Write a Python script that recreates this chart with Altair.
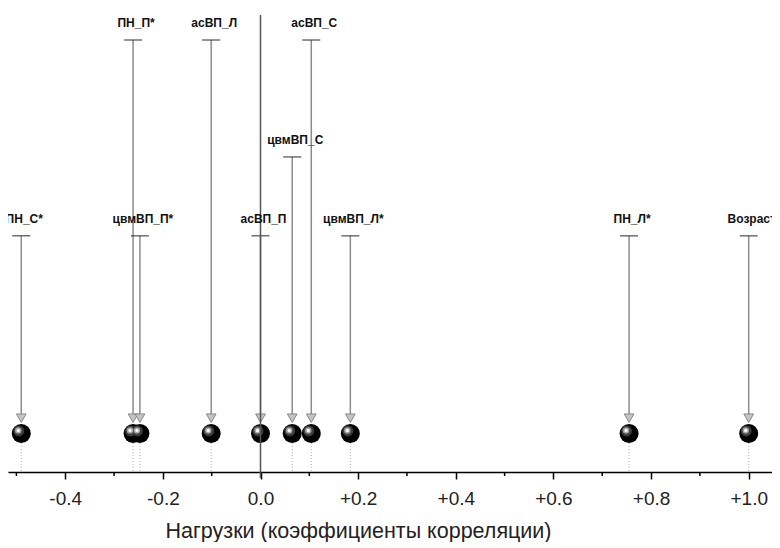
import altair as alt
import pandas as pd

# ---------------- data ----------------
names = ["ПН_С*", "ПН_П*", "цвмВП_П*", "асВП_Л", "асВП_П",
         "цвмВП_С", "асВП_С", "цвмВП_Л*", "ПН_Л*", "Возраст"]
loadings = [-0.490, -0.261, -0.247, -0.101, 0.0,
            0.065, 0.104, 0.184, 0.755, 1.0]
label_tier = [1, 3, 1, 3, 1, 2, 3, 1, 1, 1]          # 1 = low, 2 = middle, 3 = top row of labels
major_ticks = [-0.4, -0.2, 0.0, 0.2, 0.4, 0.6, 0.8, 1.0]
minor_ticks = [-0.5, -0.3, -0.1, 0.1, 0.3, 0.5, 0.7, 0.9]
axis_title = "Нагрузки (коэффициенты корреляции)"

# ---------------- layout constants ----------------
W, H = 764, 464
X_DOMAIN = [-0.5172, 1.0477]
TIER_Y = {1: 0.509, 2: 0.679, 3: 0.931}
BALL_Y = 0.083
ARROW_Y = 0.116
STEM_END = 0.123
DOT_TOP = 0.0625
ZERO_TOP = 0.985
FONT = "Liberation Sans"

df = pd.DataFrame({"name": names, "loading": loadings, "tier": label_tier})
df["stem_top"] = df["tier"].map(TIER_Y)
df["stem_end"] = STEM_END
df["arrow"] = ARROW_Y
df["ball"] = BALL_Y
df["dot_top"] = DOT_TOP
df["base"] = 0.0

xscale = alt.Scale(domain=X_DOMAIN, nice=False, zero=False)
yscale = alt.Scale(domain=[0, 1], nice=False, zero=False)

x_axis = alt.Axis(
    values=major_ticks,
    labelExpr="datum.value < -0.001 ? '-' + format(-datum.value, '.1f') : "
              "(datum.value > 0.001 ? '+' + format(datum.value, '.1f') : '0.0')",
    grid=False,
    tickSize=7, tickWidth=1.5, tickColor="black",
    domainColor="black", domainWidth=1.5,
    labelFontSize=19, labelFont=FONT, labelColor="#222",
    labelPadding=10, labelFlush=False, labelOverlap=False,
    title=axis_title, titleFontSize=21.5, titleFont=FONT,
    titleFontWeight="normal", titleColor="#222", titlePadding=12,
    titleX=350, titleAlign="center",
)

X = alt.X("loading:Q", scale=xscale, axis=x_axis)
base = alt.Chart(df).encode(x=X)

dotted = base.mark_rule(color="#b5b5b5", strokeDash=[1, 2], strokeWidth=1).encode(
    y=alt.Y("dot_top:Q", scale=yscale, axis=None),
    y2=alt.Y2("base:Q"),
)

stems = base.mark_rule(color="#8c8c8c", strokeWidth=1.5).encode(
    y=alt.Y("stem_top:Q", scale=yscale, axis=None),
    y2=alt.Y2("stem_end:Q"),
)

caps = base.mark_tick(orient="horizontal", size=18, thickness=1.5, color="#333").encode(
    y=alt.Y("stem_top:Q", scale=yscale, axis=None),
)

arrows = base.mark_point(shape="triangle-down", size=95, filled=True,
                         fill="#c4c4c4", stroke="#888888", strokeWidth=1,
                         opacity=1).encode(
    y=alt.Y("arrow:Q", scale=yscale, axis=None),
)

BY = alt.Y("ball:Q", scale=yscale, axis=None)
ball = base.mark_circle(size=361, color="#000000", opacity=1).encode(y=BY)
ball_glow = base.mark_circle(size=120, color="#3c3c3c", opacity=1,
                             xOffset=-2.5, yOffset=-2.5).encode(y=BY)
ball_hl = base.mark_circle(size=42, color="#a0a0a0", opacity=1,
                           xOffset=-3, yOffset=-3).encode(y=BY)
ball_spec = base.mark_circle(size=12, color="#f6f6f6", opacity=1,
                             xOffset=-3, yOffset=-3).encode(y=BY)

labels = base.mark_text(dx=3, dy=-13, baseline="alphabetic", align="center",
                        font=FONT, fontSize=12, fontWeight="bold",
                        color="#111").encode(
    y=alt.Y("stem_top:Q", scale=yscale, axis=None),
    text="name:N",
)

zero_df = pd.DataFrame({"loading": [0.0], "top": [ZERO_TOP]})
zero_line = alt.Chart(zero_df).mark_rule(color="#555", strokeWidth=1.5).encode(
    x=X,
    y=alt.Y("top:Q", scale=yscale, axis=None),
    y2=alt.value(H + 6),
)

minor = alt.Chart(pd.DataFrame({"loading": minor_ticks})).mark_rule(
    color="black", strokeWidth=1.5).encode(
    x=X,
    y=alt.value(H),
    y2=alt.value(H + 4),
)

chart = alt.layer(dotted, stems, caps, arrows, ball, ball_glow, ball_hl, ball_spec,
                  zero_line, minor, labels).properties(
    width=W, height=H,
    autosize=alt.AutoSizeParams(type="none"),
    padding={"left": 0, "top": 0, "right": 0, "bottom": 70},
    background="white",
).configure_view(stroke=None)

chart.save("out.html", embed_options={"renderer": "svg", "actions": False})
